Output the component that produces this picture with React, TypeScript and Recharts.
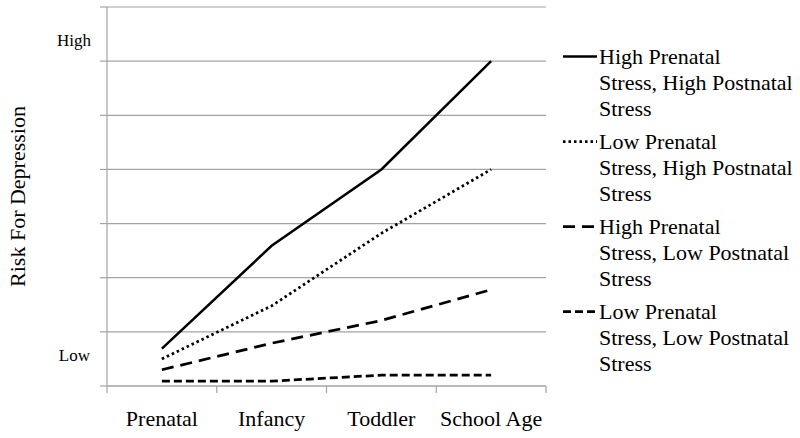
import { LineChart, Line, XAxis, YAxis, CartesianGrid, ReferenceLine } from 'recharts';

const stages = ['Prenatal', 'Infancy', 'Toddler', 'School Age'];
const highHigh = [0.69, 2.59, 4.0, 6.0];
const lowHigh = [0.5, 1.48, 2.82, 4.0];
const highLow = [0.3, 0.79, 1.21, 1.78];
const lowLow = [0.09, 0.09, 0.2, 0.2];
const yTicks = [0, 1, 2, 3, 4, 5, 6, 7];
// boundaries between stages get a tick mark, the middles get the stage name
const xTicks = [0, 0.5, 1, 1.5, 2, 2.5, 3, 3.5, 4];

const GRID = '#a3a3a3';
const FONT = '"Liberation Serif", "Times New Roman", serif';

const series = [
  { key: 'hh', name: 'High Prenatal\nStress, High Postnatal\nStress', dash: undefined, width: 2.5 },
  { key: 'lh', name: 'Low Prenatal\nStress, High Postnatal\nStress', dash: '2.5 3', width: 2.75 },
  { key: 'hl', name: 'High Prenatal\nStress, Low Postnatal\nStress', dash: '12 7', width: 2.75 },
  { key: 'll', name: 'Low Prenatal\nStress, Low Postnatal\nStress', dash: '8 4', width: 2.75 },
];

const data = stages.map((stage, i) => ({
  stage,
  pos: i + 0.5,
  hh: highHigh[i],
  lh: lowHigh[i],
  hl: highLow[i],
  ll: lowLow[i],
}));

function StageTick(props: any) {
  const { x, y, payload } = props;
  const v = payload.value as number;
  if (Number.isInteger(v)) {
    return <line x1={x} x2={x} y1={y} y2={y + 7} stroke={GRID} strokeWidth={1.2} />;
  }
  return (
    <text x={x} y={y + 40} textAnchor="middle" fill="#000" fontSize={22} fontFamily={FONT}>
      {stages[Math.floor(v)]}
    </text>
  );
}

export default function App() {
  return (
    <div style={{ position: 'absolute', left: 0, top: 0, width: 800, height: 438, background: '#fff', fontFamily: FONT }}>
      <LineChart width={800} height={438} data={data} margin={{ top: 7, right: 254, bottom: 0, left: 0 }}>
        <CartesianGrid vertical={false} stroke={GRID} strokeWidth={1.2} />
        <XAxis type="number" dataKey="pos" domain={[0, 4]} ticks={xTicks} interval={0}
          tick={<StageTick />} tickLine={false} tickSize={0} tickMargin={0} height={52}
          axisLine={{ stroke: GRID, strokeWidth: 1.2 }} />
        <YAxis domain={[0, 7]} ticks={yTicks} tickFormatter={() => ''} tickSize={7} width={107}
          axisLine={{ stroke: GRID, strokeWidth: 1.2 }} tickLine={{ stroke: GRID, strokeWidth: 1.2 }}
          label={{ value: 'Risk For Depression', angle: -90, position: 'insideLeft', offset: 17,
            style: { textAnchor: 'middle', fill: '#000', fontSize: 22, fontFamily: FONT } }} />
        <ReferenceLine y={6.39} stroke="none"
          label={{ value: 'High', position: 'left', offset: 16, fill: '#000', fontSize: 17, fontFamily: FONT }} />
        <ReferenceLine y={0.57} stroke="none"
          label={{ value: 'Low', position: 'left', offset: 17, fill: '#000', fontSize: 17, fontFamily: FONT }} />
        {series.map((s) => (
          <Line key={s.key} dataKey={s.key} type="linear" stroke="#000" strokeWidth={s.width}
            strokeDasharray={s.dash} dot={false} activeDot={false} isAnimationActive={false} />
        ))}
      </LineChart>
      <div style={{ position: 'absolute', left: 561, top: 44 }}>
        {series.map((s) => (
          <div key={s.key} style={{ display: 'flex', alignItems: 'flex-start', height: 85 }}>
            <svg width={38} height={26} style={{ flex: 'none' }}>
              <line x1={2} y1={12.5} x2={36} y2={12.5} stroke="#000" strokeWidth={s.width} strokeDasharray={s.dash} />
            </svg>
            <div style={{ whiteSpace: 'pre-line', fontSize: 22, lineHeight: '26px', color: '#000' }}>{s.name}</div>
          </div>
        ))}
      </div>
    </div>
  );
}
